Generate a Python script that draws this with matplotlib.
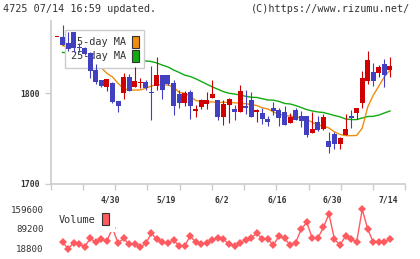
import matplotlib
matplotlib.use("Agg")
import matplotlib.pyplot as plt
from matplotlib.patches import Patch
import numpy as np

title_left = "4725 07/14 16:59 updated."
title_right = "(C)https://www.rizumu.net/"

opens = [1862, 1862, 1855, 1867, 1851, 1849.6, 1844, 1825.7, 1814.7, 1806.6,
         1811.7, 1791.8, 1800, 1817.6, 1807.3, 1811.5, 1812.8, 1801.8, 1808, 1820,
         1820, 1811, 1799, 1789.6, 1801, 1781, 1785.3, 1788, 1795, 1792.6,
         1774, 1787, 1782.7, 1779.7, 1786.3, 1792.6, 1779.7, 1778.6, 1771.7, 1783.5,
         1781.6, 1779.7, 1767, 1781.6, 1775, 1775, 1756.6, 1768.7, 1760.6, 1747.4,
         1754.8, 1744, 1754, 1775, 1778.6, 1789, 1814, 1823, 1822, 1832.3,
         1825.7]
highs = [1862, 1875, 1867, 1867.5, 1855, 1851, 1845, 1832, 1815, 1816,
         1812, 1792, 1822, 1821, 1828.6, 1816.5, 1815, 1830, 1840, 1820,
         1820.5, 1814.7, 1803.6, 1802, 1803.6, 1787, 1793.4, 1801, 1814.7, 1792.6,
         1792.6, 1795, 1787, 1809, 1803.6, 1801, 1782.4, 1784, 1775, 1790,
         1783.5, 1786, 1778, 1783.5, 1780.8, 1775, 1779.7, 1775, 1777, 1757.7,
         1757.7, 1752, 1777, 1781.6, 1783.5, 1824.6, 1846.6, 1833.7, 1831, 1837.8,
         1840]
lows = [1862, 1853, 1847, 1846, 1845, 1842, 1816.5, 1810, 1807, 1803,
        1789, 1779.7, 1794, 1803, 1807.3, 1805.5, 1804, 1770.6, 1803.6, 1793.4,
        1809, 1776, 1784, 1785.5, 1772, 1774, 1782.4, 1782.7, 1795, 1770.6,
        1765, 1767.6, 1771, 1779.7, 1776.9, 1774, 1768.7, 1766, 1764, 1776,
        1764, 1765, 1767, 1770.6, 1763, 1751.5, 1756.6, 1758.8, 1759.5, 1733.8,
        1738.6, 1738.6, 1754, 1761.4, 1771.7, 1783.5, 1810, 1808.4, 1818, 1807.3,
        1818]
closes = [1862, 1853, 1848.5, 1849.6, 1849.6, 1843, 1825, 1812, 1808.4, 1815.8,
          1790.7, 1786.3, 1818, 1803, 1813.6, 1812.5, 1805.5, 1800, 1820, 1803.6,
          1810, 1786.3, 1789, 1800.7, 1786.3, 1782.4, 1792.6, 1792.6, 1799, 1774,
          1788, 1793.4, 1779.7, 1802.5, 1784, 1774, 1781.6, 1771.3, 1768.7, 1780.5,
          1772.4, 1765, 1773.5, 1770.6, 1769.8, 1754, 1760.6, 1759.5, 1773.5, 1741,
          1744, 1751, 1760.6, 1773, 1783.5, 1816.5, 1836.7, 1814, 1828.7, 1820,
          1830]
ma5 = [np.nan, 1852.5, 1851, 1850, 1849, 1848, 1843, 1836, 1828, 1822,
       1818, 1811, 1805, 1803.6, 1803.6, 1803.6, 1805.5, 1808, 1809.5, 1809.5,
       1809, 1807, 1801, 1800, 1797, 1792, 1791, 1790.5, 1790.5, 1790,
       1790, 1790, 1789.5, 1789, 1788.5, 1787.5, 1786.5, 1784, 1782.7, 1779.4,
       1777, 1775.6, 1775, 1774, 1772.8, 1771, 1768, 1765, 1764, 1761.7,
       1757.5, 1754.6, 1753.3, 1753.3, 1753.5, 1761.7, 1785, 1798, 1808, 1818.3,
       1825.7]
ma25 = [np.nan, 1845, 1844.5, 1844, 1843.5, 1843, 1842, 1841.5, 1841, 1840,
        1839.5, 1839, 1838, 1837.5, 1837, 1836.5, 1835.6, 1835, 1833.4, 1831,
        1829, 1825.7, 1823, 1820, 1818.5, 1816, 1813, 1810, 1807, 1804.4,
        1801.8, 1800, 1799.2, 1798, 1796.7, 1795.6, 1795.4, 1794, 1792.6, 1792.4,
        1791, 1788.8, 1788.2, 1786.5, 1784.3, 1782, 1780.5, 1779.4, 1778.8, 1777.2,
        1775.5, 1774, 1771.7, 1771, 1771, 1772.8, 1774.4, 1774.6, 1776, 1778.3,
        1780.5]
volume = [np.nan, 42600, 16300, 39000, 33200, 24600, 54900, 40500, 51300, 45200,
          92100, 36800, 54900, 33200, 33200, 22400, 36800, 73000, 51300, 40500,
          36800, 48800, 27100, 27100, 63200, 40500, 33200, 39000, 48800, 54900,
          51300, 33200, 27100, 39000, 48800, 57100, 73000, 51300, 51300, 30700,
          63200, 54900, 30700, 39000, 87400, 112700, 54900, 54900, 94600, 142600,
          51300, 30700, 63200, 51300, 42600, 159600, 87400, 40500, 40500, 42600,
          51300]
date_labels = ["4/30", "5/19", "6/2", "6/16", "6/30", "7/14"]
date_label_idx = [10, 20, 30, 40, 50, 60]
price_ticks = [1700, 1800]
vol_ticks = [18800, 89200, 159600]

RED = "#d00000"
BLUE = "#4040c0"
ORANGE = "#f08c10"
GREEN = "#11aa11"
VOLC = "#ff5a60"
GRAY = "#cccccc"
TXT = "#333333"
MONO = "DejaVu Sans Mono"

W, H = 420, 259
fig = plt.figure(figsize=(W / 100, H / 100), dpi=100)

def fr(x0, y0, x1, y1):
    return [x0 / W, 1 - y1 / H, (x1 - x0) / W, (y1 - y0) / H]

ax = fig.add_axes(fr(50.7, 20.7, 405.3, 184))
axv = fig.add_axes(fr(50.7, 205, 405.3, 252))

n = len(closes)
x = np.arange(n)
o = np.array(opens); c = np.array(closes)
hi = np.array(highs); lo = np.array(lows)
cols = [RED if cc >= oo else BLUE for oo, cc in zip(o, c)]

ax.plot(x, ma25, color=GREEN, lw=1.0, zorder=2)
ax.plot(x, ma5, color=ORANGE, lw=1.0, zorder=2)
ax.vlines(x, lo, hi, colors=cols, lw=0.8, zorder=4)
ax.bar(x, np.maximum(np.abs(c - o), 1.1), bottom=np.minimum(o, c), width=0.9,
       color=cols, zorder=5, linewidth=0)

xmin, xmax = -1.135, 62.76
ax.set_xlim(xmin, xmax)
ax.set_ylim(1700, 1880)
for s in ["top", "right"]:
    ax.spines[s].set_visible(False)
for s in ["left", "bottom"]:
    ax.spines[s].set_color(GRAY)
    ax.spines[s].set_linewidth(1.2)
ax.set_yticks(price_ticks)
ax.set_yticklabels([str(t) for t in price_ticks], fontfamily=MONO,
                   fontweight="bold", fontsize=5.8, color=TXT)
ax.tick_params(axis="y", length=4, width=1.0, color=GRAY, pad=4)
ax.set_xticks(np.linspace(xmin, xmax, 12))
ax.set_xticklabels([])
ax.tick_params(axis="x", which="major", length=4, width=1.0, color=GRAY)
ax.set_xticks([i - 0.35 for i in date_label_idx], minor=True)
ax.set_xticklabels(date_labels, minor=True, fontfamily=MONO, fontweight="bold",
                   fontsize=5.8, color=TXT)
ax.tick_params(axis="x", which="minor", length=0, pad=8)

handles = [Patch(facecolor=ORANGE, edgecolor="#333333", lw=0.8),
           Patch(facecolor=GREEN, edgecolor="#333333", lw=0.8)]
leg = ax.legend(handles, ["5-day MA", "25-day MA"], loc="upper left",
                bbox_to_anchor=((65 - 50.7) / 354.6, (184 - 30) / 163.3),
                borderaxespad=0, markerfirst=False, fancybox=False,
                framealpha=1, edgecolor=GRAY, facecolor="white",
                prop={"family": MONO, "size": 7.4},
                handlelength=0.65, handleheight=1.5, handletextpad=0.6,
                labelspacing=0.15, borderpad=0.55)
leg.get_frame().set_linewidth(1.0)
for t in leg.get_texts():
    t.set_color(TXT)
leg.set_zorder(3)

vx = np.arange(len(volume))
axv.plot(vx, volume, color=VOLC, lw=1.0, marker="D", ms=4.2,
         markeredgewidth=0, zorder=2)
axv.set_xlim(xmin, xmax)
axv.set_ylim(5443, 175120)
for s in axv.spines.values():
    s.set_visible(False)
axv.set_xticks([])
axv.set_yticks(vol_ticks)
axv.set_yticklabels([str(t) for t in vol_ticks], fontfamily=MONO,
                    fontsize=6.6, color=TXT)
axv.tick_params(axis="y", length=0, pad=5)
vleg = axv.legend([Patch(facecolor=VOLC, edgecolor="#333333", lw=0.8)], ["Volume"],
                  loc="upper left",
                  bbox_to_anchor=((53 - 50.7) / 354.6, (252 - 207.3) / 47),
                  borderaxespad=0, markerfirst=False, fancybox=False,
                  framealpha=1, edgecolor="none", facecolor="white",
                  prop={"family": MONO, "size": 7.4},
                  handlelength=0.65, handleheight=1.4, handletextpad=0.6,
                  borderpad=0.6)
for t in vleg.get_texts():
    t.set_color(TXT)
vleg.set_zorder(3)

fig.text(3 / W, 1 - 9 / H, title_left, fontfamily=MONO, fontsize=7.3,
         color=TXT, ha="left", va="center")
fig.text(410 / W, 1 - 9 / H, title_right, fontfamily=MONO, fontsize=7.3,
         color=TXT, ha="right", va="center")

fig.savefig("out.png", dpi=100)
